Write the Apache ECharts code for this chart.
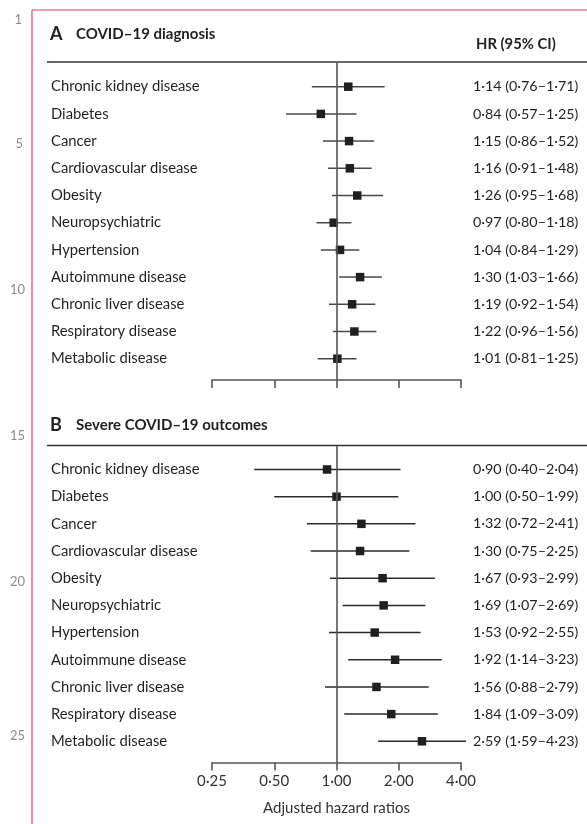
<!DOCTYPE html>
<html>
<head>
<meta charset="utf-8">
<script src="https://cdn.jsdelivr.net/npm/echarts@6/dist/echarts.min.js"></script>
<style>
html,body{margin:0;padding:0;background:#fff;}
#chart{width:587px;height:824px;}
</style>
</head>
<body>
<div id="chart"></div>
<script>
// ---- data ----
const diseases = [
  'Chronic kidney disease', 'Diabetes', 'Cancer', 'Cardiovascular disease', 'Obesity',
  'Neuropsychiatric', 'Hypertension', 'Autoimmune disease', 'Chronic liver disease',
  'Respiratory disease', 'Metabolic disease'
];
const hrA = [1.14, 0.84, 1.15, 1.16, 1.26, 0.97, 1.04, 1.30, 1.19, 1.22, 1.01];
const loA = [0.76, 0.57, 0.86, 0.91, 0.95, 0.80, 0.84, 1.03, 0.92, 0.96, 0.81];
const hiA = [1.71, 1.25, 1.52, 1.48, 1.68, 1.18, 1.29, 1.66, 1.54, 1.56, 1.25];
const hrB = [0.90, 1.00, 1.32, 1.30, 1.67, 1.69, 1.53, 1.92, 1.56, 1.84, 2.59];
const loB = [0.40, 0.50, 0.72, 0.75, 0.93, 1.07, 0.92, 1.14, 0.88, 1.09, 1.59];
const hiB = [2.04, 1.99, 2.41, 2.25, 2.99, 2.69, 2.55, 3.23, 2.79, 3.09, 4.23];
const xTicks = [0.25, 0.5, 1, 2, 4];
const titleA = ['A', 'COVID\u201319 diagnosis'];
const titleB = ['B', 'Severe COVID\u201319 outcomes'];
const colHeader = 'HR (95% CI)';
const axisTitle = 'Adjusted hazard ratios';
const lineNumbers = ['1', '5', '10', '15', '20', '25'];

// ---- style ----
const FONT = 'Lato, "Open Sans", sans-serif';
const INK = '#231f20';
const AXIS = '#555555';
const PINK = '#d4416f';

const fmt = v => v.toFixed(2).replace('.', '\u00b7');
const hrText = (h, l, u) => fmt(h) + ' (' + fmt(l) + '\u2013' + fmt(u) + ')';

function rows(hr, lo, hi) {
  return hr.map((h, i) => [i, h, lo[i], hi[i]]);
}

function renderItem(hr, lo, hi, lineColor) {
  return function (params, api) {
    const i = params.dataIndex;
    const y = api.value(0);
    const c = api.coord([api.value(1), y]);
    const l = api.coord([api.value(2), y]);
    const u = api.coord([api.value(3), y]);
    const s = 8.5;
    return {
      type: 'group',
      children: [
        { type: 'line', shape: { x1: l[0], y1: l[1], x2: u[0], y2: u[1] },
          style: { stroke: lineColor, lineWidth: 1.5 } },
        { type: 'rect', shape: { x: c[0] - s / 2, y: c[1] - s / 2, width: s, height: s },
          style: { fill: INK } },
        { type: 'text', style: { x: 51, y: c[1], text: diseases[i], fill: INK,
          font: '14.8px ' + FONT, align: 'left', verticalAlign: 'middle' } },
        { type: 'text', style: { x: 473, y: c[1], text: hrText(hr[i], lo[i], hi[i]), fill: INK,
          font: '14.3px ' + FONT, align: 'left', verticalAlign: 'middle' } }
      ]
    };
  };
}

const xAxisBase = {
  type: 'log', logBase: 2, min: xTicks[0], max: xTicks[xTicks.length - 1],
  splitNumber: xTicks.length - 1,
  axisLine: { show: true, onZero: false, lineStyle: { color: AXIS, width: 1.6 } },
  axisTick: { show: true, length: 8, inside: false, lineStyle: { color: AXIS, width: 1.6 } },
  splitLine: { show: false },
  minorTick: { show: false }
};

const refLine = (xi, yi) => ({
  type: 'line', xAxisIndex: xi, yAxisIndex: yi, data: [], z: 1, silent: true,
  markLine: {
    silent: true, symbol: ['none', 'none'], animation: false,
    label: { show: false },
    lineStyle: { color: AXIS, width: 1.6, type: 'solid' },
    data: [{ xAxis: 1 }]
  }
});

const numStyle = (x, y, t) => ({
  type: 'text',
  style: { x: x, y: y, text: t, font: '13px ' + FONT, fill: '#8c8c8c', align: 'right', verticalAlign: 'middle' }
});

const chart = echarts.init(document.getElementById('chart'), null, { renderer: 'canvas' });
chart.setOption({
  animation: false,
  backgroundColor: '#ffffff',
  grid: [
    { left: 212, width: 249, top: 62, height: 318 },
    { left: 212, width: 249, top: 445.5, height: 317 }
  ],
  xAxis: [
    Object.assign({}, xAxisBase, { gridIndex: 0, axisLabel: { show: false } }),
    Object.assign({}, xAxisBase, {
      gridIndex: 1,
      axisLabel: { show: true, margin: 11, color: '#333', fontFamily: FONT, fontSize: 15,
        formatter: v => fmt(v) },
      name: axisTitle, nameLocation: 'middle', nameGap: 38,
      nameTextStyle: { color: '#333', fontFamily: FONT, fontSize: 15 }
    })
  ],
  yAxis: [
    { type: 'value', gridIndex: 0, inverse: true, min: -0.908, max: 10.783, show: false },
    { type: 'value', gridIndex: 1, inverse: true, min: -0.882, max: 10.78, show: false }
  ],
  series: [
    refLine(0, 0),
    refLine(1, 1),
    { type: 'custom', xAxisIndex: 0, yAxisIndex: 0, z: 3, clip: false,
      renderItem: renderItem(hrA, loA, hiA, '#4a4a4a'),
      encode: { x: [1, 2, 3], y: 0 }, data: rows(hrA, loA, hiA) },
    { type: 'custom', xAxisIndex: 1, yAxisIndex: 1, z: 3, clip: false,
      renderItem: renderItem(hrB, loB, hiB, '#2a2a2a'),
      encode: { x: [1, 2, 3], y: 0 }, data: rows(hrB, loB, hiB) }
  ],
  graphic: [
    // page frame
    { type: 'line', shape: { x1: 32, y1: 10, x2: 587, y2: 10 }, style: { stroke: PINK, lineWidth: 1.2 } },
    { type: 'line', shape: { x1: 32, y1: 10, x2: 32, y2: 824 }, style: { stroke: PINK, lineWidth: 1.2 } },
    // rules
    { type: 'line', shape: { x1: 47, y1: 62, x2: 587, y2: 62 }, style: { stroke: '#333', lineWidth: 1.5 } },
    { type: 'line', shape: { x1: 47, y1: 445.5, x2: 587, y2: 445.5 }, style: { stroke: '#333', lineWidth: 1.5 } },
    // titles
    { type: 'text', style: { x: 50, y: 34, text: titleA[0], font: 'bold 18px ' + FONT, fill: INK, verticalAlign: 'middle' } },
    { type: 'text', style: { x: 76, y: 34, text: titleA[1], font: 'bold 15px ' + FONT, fill: INK, verticalAlign: 'middle' } },
    { type: 'text', style: { x: 476, y: 44, text: colHeader, font: 'bold 14.8px ' + FONT, fill: INK, verticalAlign: 'middle' } },
    { type: 'text', style: { x: 50, y: 425, text: titleB[0], font: 'bold 18px ' + FONT, fill: INK, verticalAlign: 'middle' } },
    { type: 'text', style: { x: 76, y: 425, text: titleB[1], font: 'bold 15px ' + FONT, fill: INK, verticalAlign: 'middle' } },
    // margin line numbers
    numStyle(22, 20, lineNumbers[0]),
    numStyle(23, 144, lineNumbers[1]),
    numStyle(25, 290, lineNumbers[2]),
    numStyle(25, 436, lineNumbers[3]),
    numStyle(25, 582, lineNumbers[4]),
    numStyle(25, 736, lineNumbers[5])
  ]
});
</script>
</body>
</html>
